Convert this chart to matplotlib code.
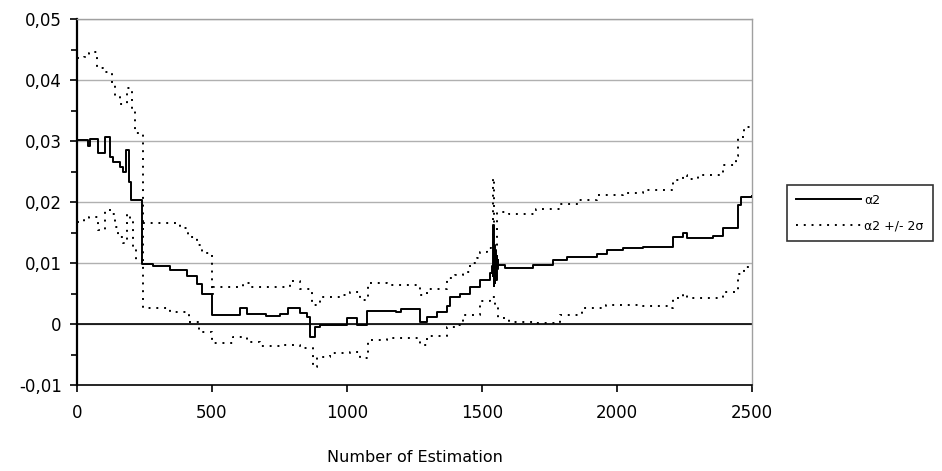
import matplotlib
matplotlib.use("Agg")
import matplotlib.pyplot as plt
from matplotlib.ticker import MultipleLocator, FuncFormatter

# alpha2 estimate (step series)
alpha_x = [0, 42, 48, 79, 104, 122, 135, 159, 171, 181, 193, 199, 240, 280, 344, 406, 443, 462, 499,
           604, 628, 700, 750, 783, 826, 851, 863, 881, 900, 999, 1036, 1073, 1180, 1200, 1270, 1295,
           1332, 1369, 1381, 1419, 1456, 1493, 1530, 1538, 1540, 1542, 1543, 1544, 1545, 1546, 1547,
           1548, 1549, 1550, 1551, 1552, 1553, 1554, 1555, 1556, 1557, 1558, 1560,
           1585, 1690, 1764, 1814, 1838, 1925, 1962, 2023, 2098, 2209, 2246, 2258, 2357, 2394,
           2449, 2460, 2500]
alpha_y = [0.0302, 0.0292, 0.0304, 0.0280, 0.0307, 0.0274, 0.0265, 0.0257, 0.0250, 0.0285, 0.0233,
           0.0203, 0.0098, 0.0095, 0.0088, 0.0078, 0.0065, 0.0050, 0.0015,
           0.0026, 0.0016, 0.0013, 0.0016, 0.0026, 0.0018, 0.0012, -0.0021, -0.0005, -0.0002, 0.0010,
           -0.0002, 0.0022, 0.0019, 0.0024, 0.0003, 0.0012,
           0.0020, 0.0029, 0.0045, 0.0050, 0.0060, 0.0072, 0.0083, 0.0095, 0.0078, 0.0162, 0.0070,
           0.0125, 0.0062, 0.0130, 0.0075, 0.0118, 0.0068, 0.0122, 0.0080, 0.0115, 0.0072, 0.0110,
           0.0085, 0.0112, 0.0090, 0.0105, 0.0097,
           0.0092, 0.0097, 0.0105, 0.0110, 0.0110, 0.0115, 0.0121, 0.0124, 0.0127, 0.0143,
           0.0149, 0.0141, 0.0145, 0.0157,
           0.0195, 0.0208, 0.0210]

# confidence band, curve starting high (alpha2 + 2 sigma at start)
band_a_x = [0, 26, 44, 60, 74, 97, 130, 141, 159, 185, 204, 215, 245, 343, 415, 452, 500, 578, 628,
            677, 752, 826, 875, 888, 937, 1011, 1048, 1079, 1150, 1270, 1295, 1369, 1410, 1430, 1493,
            1530, 1548, 1560, 1600, 1700, 1789, 1870, 1960, 2098, 2196, 2209, 2246, 2258, 2394, 2449,
            2470, 2500]
band_a_y = [0.0436, 0.0438, 0.0444, 0.0446, 0.0420, 0.0413, 0.0395, 0.0372, 0.0360, 0.0387, 0.0350,
            0.0313, 0.0026, 0.0020, 0.0003, -0.0013, -0.0031, -0.0021, -0.0030,
            -0.0036, -0.0034, -0.0039, -0.0070, -0.0054, -0.0048, -0.0046, -0.0055, -0.0026, -0.0023,
            -0.0034, -0.0020, -0.0005, -0.0002, 0.0015, 0.0038,
            0.0045, 0.0028, 0.0010, 0.0003, 0.0002, 0.0015, 0.0026, 0.0031, 0.0030, 0.0026, 0.0043,
            0.0050, 0.0043, 0.0052, 0.0082,
            0.0093, 0.0095]

# confidence band, curve starting low (alpha2 - 2 sigma at start)
band_b_x = [0, 26, 44, 79, 104, 130, 141, 152, 170, 185, 196, 208, 220, 240, 381, 411, 444, 463, 499,
            505, 616, 640, 789, 826, 869, 900, 975, 1011, 1048, 1079, 1150, 1270, 1295, 1369, 1400,
            1430, 1456, 1480, 1493, 1520, 1535, 1541, 1546, 1554, 1600, 1700, 1789, 1860, 1925, 2023,
            2098, 2209, 2246, 2258, 2300, 2394, 2440, 2449, 2470, 2500]
band_b_y = [0.0167, 0.0170, 0.0175, 0.0154, 0.0187, 0.0180, 0.0159, 0.0143, 0.0133, 0.0180, 0.0170,
            0.0125, 0.0105, 0.0166, 0.0157, 0.0143, 0.0130, 0.0116, 0.0050,
            0.0060, 0.0067, 0.0060, 0.0070, 0.0057, 0.0031, 0.0044, 0.0047, 0.0053, 0.0040, 0.0067,
            0.0064, 0.0047, 0.0058, 0.0075, 0.0080,
            0.0085, 0.0100, 0.0108, 0.0118, 0.0125, 0.0130, 0.0240, 0.0120, 0.0183, 0.0180, 0.0188,
            0.0196, 0.0203, 0.0211, 0.0215,
            0.0220, 0.0236, 0.0244, 0.0238, 0.0244, 0.0260, 0.0275, 0.0306, 0.0323, 0.0325]

y_ticks = [-0.01, 0.0, 0.01, 0.02, 0.03, 0.04, 0.05]
x_ticks = [0, 500, 1000, 1500, 2000, 2500]
legend_labels = ["α2", "α2 +/- 2σ"]
x_label = "Number of Estimation"

plt.rcParams['font.family'] = ['DejaVu Sans']

fig = plt.figure(figsize=(9.42, 4.71), dpi=100)
ax = fig.add_axes([77/942, 1 - 385/471, (752-77)/942, (385-19)/471])

for y in y_ticks[1:]:
    ax.axhline(y, color="#b0b0b0", lw=1.0, zorder=1)
ax.axhline(0, color="black", lw=1.2, zorder=2)

dot = (0, (1.0, 3.0))
l1, = ax.plot(alpha_x, alpha_y, drawstyle="steps-post", color="black", lw=1.4, zorder=4)
l2, = ax.plot(band_a_x, band_a_y, drawstyle="steps-post", color="black", lw=1.4, ls=dot, zorder=3)
ax.plot(band_b_x, band_b_y, drawstyle="steps-post", color="black", lw=1.4, ls=dot, zorder=3)

ax.set_xlim(0, 2500)
ax.set_ylim(-0.01, 0.05)
ax.set_xticks(x_ticks)
ax.set_yticks(y_ticks)
ax.yaxis.set_minor_locator(MultipleLocator(0.005))

def fmt(v, pos):
    if abs(v) < 1e-12:
        return "0"
    return f"{v:.2f}".replace(".", ",")

ax.yaxis.set_major_formatter(FuncFormatter(fmt))
ax.tick_params(axis="both", direction="out", labelsize=12, colors="black", length=5, width=1.2, pad=6)
ax.tick_params(axis="y", which="minor", direction="out", length=4, width=1.2)
ax.tick_params(axis="x", pad=9)

for s in ["top", "right"]:
    ax.spines[s].set_color("#a0a0a0")
    ax.spines[s].set_linewidth(1.0)
ax.spines["left"].set_linewidth(1.6)
ax.spines["bottom"].set_linewidth(1.2)

ax.set_xlabel(x_label, fontsize=11.5, labelpad=20)

leg = fig.legend([l1, l2], legend_labels, loc="center left", bbox_to_anchor=(787/942, 1 - 213/471),
                 frameon=True, fancybox=False, edgecolor="black", fontsize=9,
                 handlelength=5.2, borderpad=0.7, labelspacing=1.0, handletextpad=0.3,
                 borderaxespad=0)
leg.get_frame().set_linewidth(1.2)

fig.savefig("out.png", dpi=100)
